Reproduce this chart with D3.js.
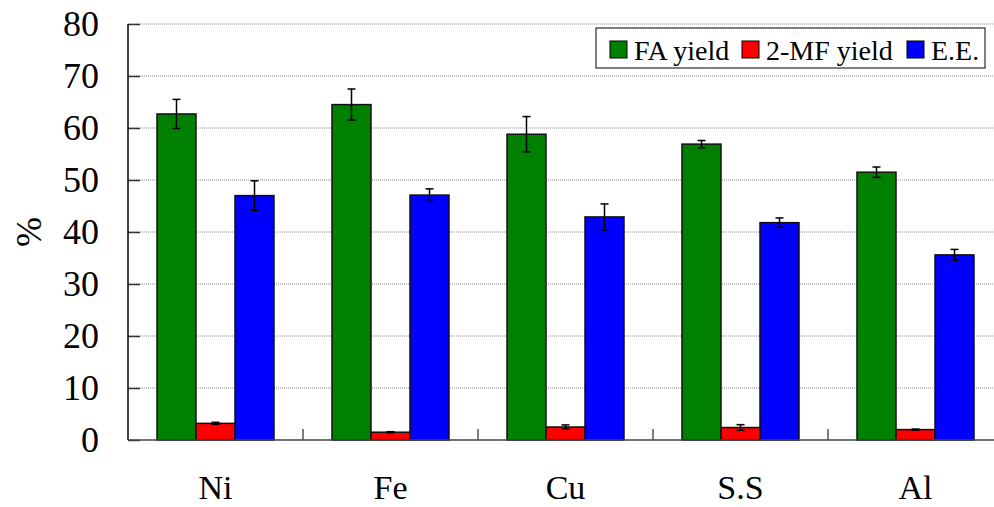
<!DOCTYPE html>
<html>
<head>
<meta charset="utf-8">
<script src="https://cdn.jsdelivr.net/npm/d3@7/dist/d3.min.js"></script>
<style>
  html, body { margin: 0; padding: 0; background: #fff; overflow: hidden; }
  svg text { font-family: 'Liberation Serif', 'DejaVu Serif', serif; }
</style>
</head>
<body>
<svg id="chart" width="994" height="507"></svg>
<script>
// Electrode materials
const categories = ["Ni", "Fe", "Cu", "S.S", "Al"];
const seriesNames = ["FA yield", "2-MF yield", "E.E."];
const seriesColors = ["#008000", "#ff0000", "#0000ff"];

// Mean values (%) per series, in category order
const faYield = [62.7, 64.5, 58.8, 56.9, 51.5];
const mfYield = [3.2, 1.5, 2.5, 2.4, 2.0];
const eeValues = [47.0, 47.1, 42.9, 41.8, 35.6];

// Error bar half-widths (%)
const faErr = [2.8, 3.0, 3.4, 0.7, 1.0];
const mfErr = [0.2, 0.1, 0.4, 0.55, 0.1];
const eeErr = [2.85, 1.2, 2.5, 0.9, 1.05];

const yTicks = [0, 10, 20, 30, 40, 50, 60, 70, 80];

const values = [faYield, mfYield, eeValues];
const errors = [faErr, mfErr, eeErr];

const FONT = "'Liberation Serif', 'DejaVu Serif', serif";

const svg = d3.select("#chart").attr("font-family", FONT);
const margin = { left: 128, top: 24, right: 1003, bottom: 440 };

const x0 = d3.scaleBand().domain(categories).range([margin.left, margin.right]).padding(0);
const groupInner = x0.bandwidth() * (117 / 175);
const x1 = d3.scaleBand().domain(seriesNames)
  .range([(x0.bandwidth() - groupInner) / 2, (x0.bandwidth() + groupInner) / 2]).padding(0);
const y = d3.scaleLinear().domain([0, 80]).range([margin.bottom, margin.top]);

// Dotted gridlines
svg.append("g").selectAll("line").data(yTicks.filter(d => d > 0)).join("line")
  .attr("x1", margin.left).attr("x2", margin.right)
  .attr("y1", d => y(d)).attr("y2", d => y(d))
  .attr("stroke", "#8c8c8c").attr("stroke-width", 1).attr("stroke-dasharray", "1,1");

// Y axis with inward ticks
const yAxis = d3.axisRight(y).tickValues(yTicks).tickSize(12).tickFormat("");
const yg = svg.append("g").attr("transform", `translate(${margin.left},0)`).call(yAxis);
yg.select(".domain").remove();
yg.selectAll(".tick line").attr("stroke", "#333").attr("stroke-width", 1.5);
svg.append("line").attr("x1", margin.left).attr("x2", margin.left)
  .attr("y1", margin.top).attr("y2", margin.bottom)
  .attr("stroke", "#000").attr("stroke-width", 1.5);

// Y tick labels
svg.append("g").selectAll("text").data(yTicks).join("text")
  .attr("font-family", FONT)
  .attr("x", 99).attr("y", d => y(d)).attr("dy", "0.34em")
  .attr("text-anchor", "end").attr("font-size", 36).attr("fill", "#000")
  .text(d => d);

// Y axis title
svg.append("text")
  .attr("font-family", FONT)
  .attr("transform", `translate(41,232) rotate(-90)`)
  .attr("text-anchor", "middle").attr("font-size", 36).attr("fill", "#000")
  .text("%");

// Bars
const groups = svg.append("g").selectAll("g").data(categories).join("g")
  .attr("transform", d => `translate(${x0(d)},0)`);

groups.selectAll("rect").data((c, ci) => seriesNames.map((s, si) => ({ s, si, v: values[si][ci] })))
  .join("rect")
  .attr("x", d => x1(d.s)).attr("width", x1.bandwidth())
  .attr("y", d => y(d.v)).attr("height", d => y(0) - y(d.v))
  .attr("fill", d => seriesColors[d.si])
  .attr("stroke", "#111").attr("stroke-width", 1.5);

// Error bars
const eb = groups.selectAll("g.err")
  .data((c, ci) => seriesNames.map((s, si) => ({ s, v: values[si][ci], e: errors[si][ci] })))
  .join("g").attr("class", "err")
  .attr("transform", d => `translate(${x1(d.s) + x1.bandwidth() / 2},0)`);
eb.append("line").attr("y1", d => y(d.v + d.e)).attr("y2", d => y(d.v - d.e))
  .attr("stroke", "#000").attr("stroke-width", 1.5);
eb.append("line").attr("x1", -4).attr("x2", 4).attr("y1", d => y(d.v + d.e)).attr("y2", d => y(d.v + d.e))
  .attr("stroke", "#000").attr("stroke-width", 1.5);
eb.append("line").attr("x1", -4).attr("x2", 4).attr("y1", d => y(d.v - d.e)).attr("y2", d => y(d.v - d.e))
  .attr("stroke", "#000").attr("stroke-width", 1.5);

// Bottom axis
svg.append("line").attr("x1", margin.left).attr("x2", margin.right)
  .attr("y1", margin.bottom).attr("y2", margin.bottom)
  .attr("stroke", "#444").attr("stroke-width", 1.5);
svg.append("g").selectAll("line").data(categories.slice(1)).join("line")
  .attr("x1", d => x0(d)).attr("x2", d => x0(d))
  .attr("y1", margin.bottom).attr("y2", margin.bottom - 11)
  .attr("stroke", "#555").attr("stroke-width", 1.5);

// Category labels
svg.append("g").selectAll("text").data(categories).join("text")
  .attr("font-family", FONT)
  .attr("x", d => x0(d) + x0.bandwidth() / 2).attr("y", 499)
  .attr("text-anchor", "middle").attr("font-size", 34).attr("fill", "#000")
  .text(d => d);

// Legend
const legend = svg.append("g");
legend.append("rect").attr("x", 596).attr("y", 28).attr("width", 389).attr("height", 40)
  .attr("fill", "#fff").attr("stroke", "#000").attr("stroke-width", 1);
const legendX = [610, 742, 907];
const items = legend.selectAll("g").data(seriesNames).join("g")
  .attr("transform", (d, i) => `translate(${legendX[i]},0)`);
items.append("rect").attr("x", 0).attr("y", 41).attr("width", 17).attr("height", 17)
  .attr("fill", (d, i) => seriesColors[i]).attr("stroke", "#000").attr("stroke-width", 1);
items.append("text").attr("font-family", FONT)
  .attr("x", 24).attr("y", 60).attr("font-size", 28).attr("fill", "#000")
  .text(d => d);
</script>
</body>
</html>
